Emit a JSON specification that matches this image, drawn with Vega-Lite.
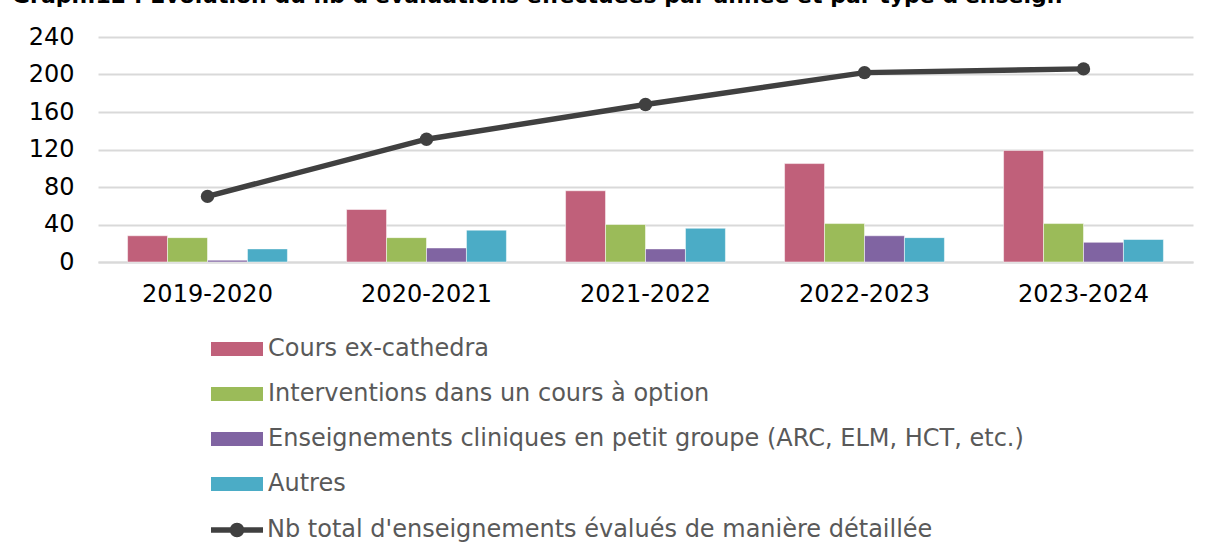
{
  "$schema": "https://vega.github.io/schema/vega-lite/v6.json",
  "width": 1095,
  "height": 225,
  "autosize": {"type": "none"},
  "padding": {"left": 98, "top": 37, "right": 16, "bottom": 292},
  "background": "white",
  "config": {
    "view": {"stroke": null},
    "font": "DejaVu Sans"
  },
  "title": {
    "text": "Graph.12 : Evolution du nb d'évaluations effectuées par année et par type d'enseign",
    "anchor": "start",
    "frame": "group",
    "fontSize": 22,
    "fontWeight": "bold",
    "color": "#000000",
    "baseline": "alphabetic",
    "offset": 0,
    "dx": -86
  },
  "datasets": {
    "bars": [
      {"annee": "2019-2020", "type": "Cours ex-cathedra", "valeur": 28},
      {"annee": "2019-2020", "type": "Interventions dans un cours à option", "valeur": 26},
      {"annee": "2019-2020", "type": "Enseignements cliniques en petit groupe (ARC, ELM, HCT, etc.)", "valeur": 2},
      {"annee": "2019-2020", "type": "Autres", "valeur": 14},
      {"annee": "2020-2021", "type": "Cours ex-cathedra", "valeur": 56},
      {"annee": "2020-2021", "type": "Interventions dans un cours à option", "valeur": 26},
      {"annee": "2020-2021", "type": "Enseignements cliniques en petit groupe (ARC, ELM, HCT, etc.)", "valeur": 15},
      {"annee": "2020-2021", "type": "Autres", "valeur": 34},
      {"annee": "2021-2022", "type": "Cours ex-cathedra", "valeur": 76},
      {"annee": "2021-2022", "type": "Interventions dans un cours à option", "valeur": 40},
      {"annee": "2021-2022", "type": "Enseignements cliniques en petit groupe (ARC, ELM, HCT, etc.)", "valeur": 14},
      {"annee": "2021-2022", "type": "Autres", "valeur": 36},
      {"annee": "2022-2023", "type": "Cours ex-cathedra", "valeur": 105},
      {"annee": "2022-2023", "type": "Interventions dans un cours à option", "valeur": 41},
      {"annee": "2022-2023", "type": "Enseignements cliniques en petit groupe (ARC, ELM, HCT, etc.)", "valeur": 28},
      {"annee": "2022-2023", "type": "Autres", "valeur": 26},
      {"annee": "2023-2024", "type": "Cours ex-cathedra", "valeur": 119},
      {"annee": "2023-2024", "type": "Interventions dans un cours à option", "valeur": 41},
      {"annee": "2023-2024", "type": "Enseignements cliniques en petit groupe (ARC, ELM, HCT, etc.)", "valeur": 21},
      {"annee": "2023-2024", "type": "Autres", "valeur": 24}
    ],
    "total": [
      {"annee": "2019-2020", "valeur": 70},
      {"annee": "2020-2021", "valeur": 131},
      {"annee": "2021-2022", "valeur": 168},
      {"annee": "2022-2023", "valeur": 202},
      {"annee": "2023-2024", "valeur": 206}
    ]
  },
  "encoding": {
    "x": {
      "field": "annee",
      "type": "nominal",
      "title": null,
      "scale": {"paddingInner": 0.27, "paddingOuter": 0.135},
      "axis": {
        "labelAngle": 0,
        "labelFontSize": 24,
        "labelColor": "#000000",
        "labelPadding": 20,
        "ticks": false,
        "domainColor": "#D9D9D9",
        "domainWidth": 2,
        "grid": false
      }
    },
    "y": {
      "field": "valeur",
      "type": "quantitative",
      "title": null,
      "scale": {"domain": [0, 240], "nice": false},
      "axis": {
        "values": [0, 40, 80, 120, 160, 200, 240],
        "labelOverlap": false,
        "labelFontSize": 24,
        "labelColor": "#000000",
        "labelPadding": 24,
        "ticks": false,
        "domain": false,
        "gridColor": "#D9D9D9",
        "gridWidth": 2
      }
    }
  },
  "layer": [
    {
      "data": {"name": "bars"},
      "mark": {"type": "bar", "stroke": "#ffffff", "strokeWidth": 1, "strokeOpacity": 0.5},
      "encoding": {
        "xOffset": {
          "field": "type",
          "type": "nominal",
          "sort": ["Cours ex-cathedra", "Interventions dans un cours à option", "Enseignements cliniques en petit groupe (ARC, ELM, HCT, etc.)", "Autres"]
        },
        "color": {
          "field": "type",
          "type": "nominal",
          "scale": {
            "domain": ["Cours ex-cathedra", "Interventions dans un cours à option", "Enseignements cliniques en petit groupe (ARC, ELM, HCT, etc.)", "Autres"],
            "range": ["#C0607A", "#9BBB59", "#8064A2", "#4BACC6"]
          },
          "legend": {
            "title": null,
            "orient": "none",
            "legendX": 127,
            "legendY": 300,
            "direction": "vertical",
            "padding": 0,
            "labelFontSize": 24,
            "labelColor": "#595959",
            "labelOffset": 19,
            "labelLimit": 0,
            "symbolSize": 400,
            "symbolType": "M-2.6,-0.7H2.6V0.7H-2.6Z",
            "symbolStrokeWidth": 0,
            "rowPadding": 21
          }
        }
      }
    },
    {
      "data": {"name": "total"},
      "mark": {"type": "line", "strokeWidth": 5.5},
      "encoding": {
        "stroke": {
          "datum": "Nb total d'enseignements évalués de manière détaillée",
          "scale": {"range": ["#404040"]},
          "legend": {
            "title": null,
            "orient": "none",
            "legendX": 126,
            "legendY": 480,
            "padding": 0,
            "labelFontSize": 24,
            "labelColor": "#595959",
            "labelOffset": 17,
            "labelLimit": 0,
            "symbolSize": 400,
            "symbolType": "M-2.6,0H2.6M-0.45,0A0.45,0.45 0 1,0 0.45,0A0.45,0.45 0 1,0 -0.45,0",
            "symbolStrokeWidth": 5.5,
            "symbolFillColor": "#404040"
          }
        }
      }
    },
    {
      "data": {"name": "total"},
      "mark": {"type": "point", "filled": true, "size": 180, "opacity": 1, "color": "#404040"}
    }
  ]
}
